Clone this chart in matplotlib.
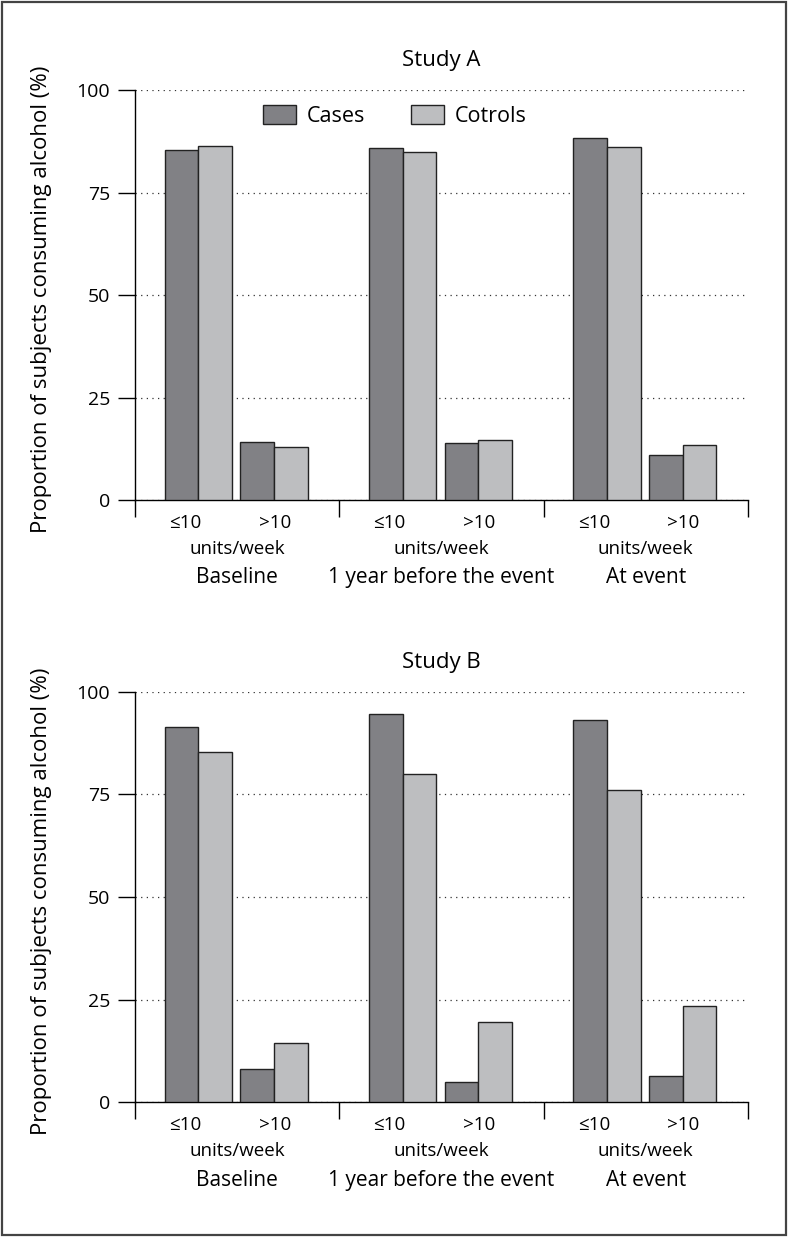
import numpy as np
import matplotlib.pyplot as plt
from matplotlib.patches import Patch, Rectangle

plt.rcParams['font.family'] = ['Open Sans', 'DejaVu Sans']

# data
periods = ['Baseline', '1 year before the event', 'At event']
levels = ['\u226410', '>10']
series = ['Cases', 'Cotrols']

# study A: [period][level]
a_cases    = [[85.3, 14.2], [85.8, 13.8], [88.4, 11.0]]
a_controls = [[86.4, 13.0], [84.8, 14.7], [86.2, 13.4]]
# study B
b_cases    = [[91.5, 8.1], [94.7, 4.9], [93.1, 6.4]]
b_controls = [[85.4, 14.3], [80.1, 19.4], [76.2, 23.5]]

yticks = [0, 25, 50, 75, 100]

dark = '#818185'
light = '#bdbec0'
edge = '#222222'

fig = plt.figure(figsize=(7.88, 12.37), dpi=100)
fig.patches.append(Rectangle((0.003, 0.002), 0.994, 0.996, transform=fig.transFigure,
                             fill=False, edgecolor='#444444', linewidth=1.6))

ax_a = fig.add_axes([0.1713, 0.5958, 0.7779, 0.3314])
ax_b = fig.add_axes([0.1713, 0.1091, 0.7779, 0.3315])

level_pos = [0.31, 0.68]    # bar pair centres inside a period
label_pos = [0.245, 0.685]  # where the level labels sit
bw = 0.165


def draw(ax, cases, controls, title):
    cases = np.array(cases)
    controls = np.array(controls)
    for j, lp in enumerate(level_pos):
        x = np.arange(len(periods)) + lp
        ax.bar(x - bw / 2, cases[:, j], bw, color=dark, edgecolor=edge, linewidth=1.0, zorder=3)
        ax.bar(x + bw / 2, controls[:, j], bw, color=light, edgecolor=edge, linewidth=1.0, zorder=3)

    ax.set_xlim(0, len(periods))
    ax.set_ylim(0, 100)
    for s in ['top', 'right']:
        ax.spines[s].set_visible(False)
    ax.spines['left'].set_linewidth(1.0)
    ax.spines['bottom'].set_linewidth(1.0)

    ax.set_yticks(yticks)
    ax.set_yticklabels([str(t) for t in yticks], fontsize=14)
    ax.tick_params(axis='y', direction='out', length=12, width=1.0, pad=6)
    ax.yaxis.grid(True, linestyle=(0, (1, 3.5)), color='#333333', linewidth=0.9, zorder=0)
    ax.set_axisbelow(True)

    # group boundaries as major ticks, level labels as minor ticks
    ax.set_xticks(np.arange(len(periods) + 1))
    ax.set_xticklabels([])
    ax.tick_params(axis='x', which='major', direction='out', length=12, width=1.0)
    minor = [i + lp for i in range(len(periods)) for lp in label_pos]
    ax.set_xticks(minor, minor=True)
    ax.set_xticklabels(levels * len(periods), minor=True, fontsize=13.5)
    ax.tick_params(axis='x', which='minor', length=0, pad=10)

    for i, p in enumerate(periods):
        ax.annotate('units/week', xy=(i + 0.5, 0), xycoords=('data', 'axes fraction'),
                    xytext=(0, -49), textcoords='offset pixels', ha='center', va='center',
                    fontsize=13.5)
        ax.annotate(p, xy=(i + 0.5, 0), xycoords=('data', 'axes fraction'),
                    xytext=(0, -78), textcoords='offset pixels', ha='center', va='center',
                    fontsize=15)

    ax.set_ylabel('Proportion of subjects consuming alcohol (%)', fontsize=16)
    ax.yaxis.set_label_coords(-0.135, 0.49)
    ax.set_title(title, fontsize=16, pad=17)


draw(ax_a, a_cases, a_controls, 'Study A')
draw(ax_b, b_cases, b_controls, 'Study B')

handles = [Patch(facecolor=dark, edgecolor=edge, linewidth=1.0),
           Patch(facecolor=light, edgecolor=edge, linewidth=1.0)]
ax_a.legend(handles, series, loc='center', bbox_to_anchor=(0.424, 0.937), ncol=2,
            frameon=False, fontsize=15.5, handlelength=1.55, handleheight=0.95,
            handletextpad=0.5, columnspacing=2.1)

fig.savefig('out.png', dpi=100)
